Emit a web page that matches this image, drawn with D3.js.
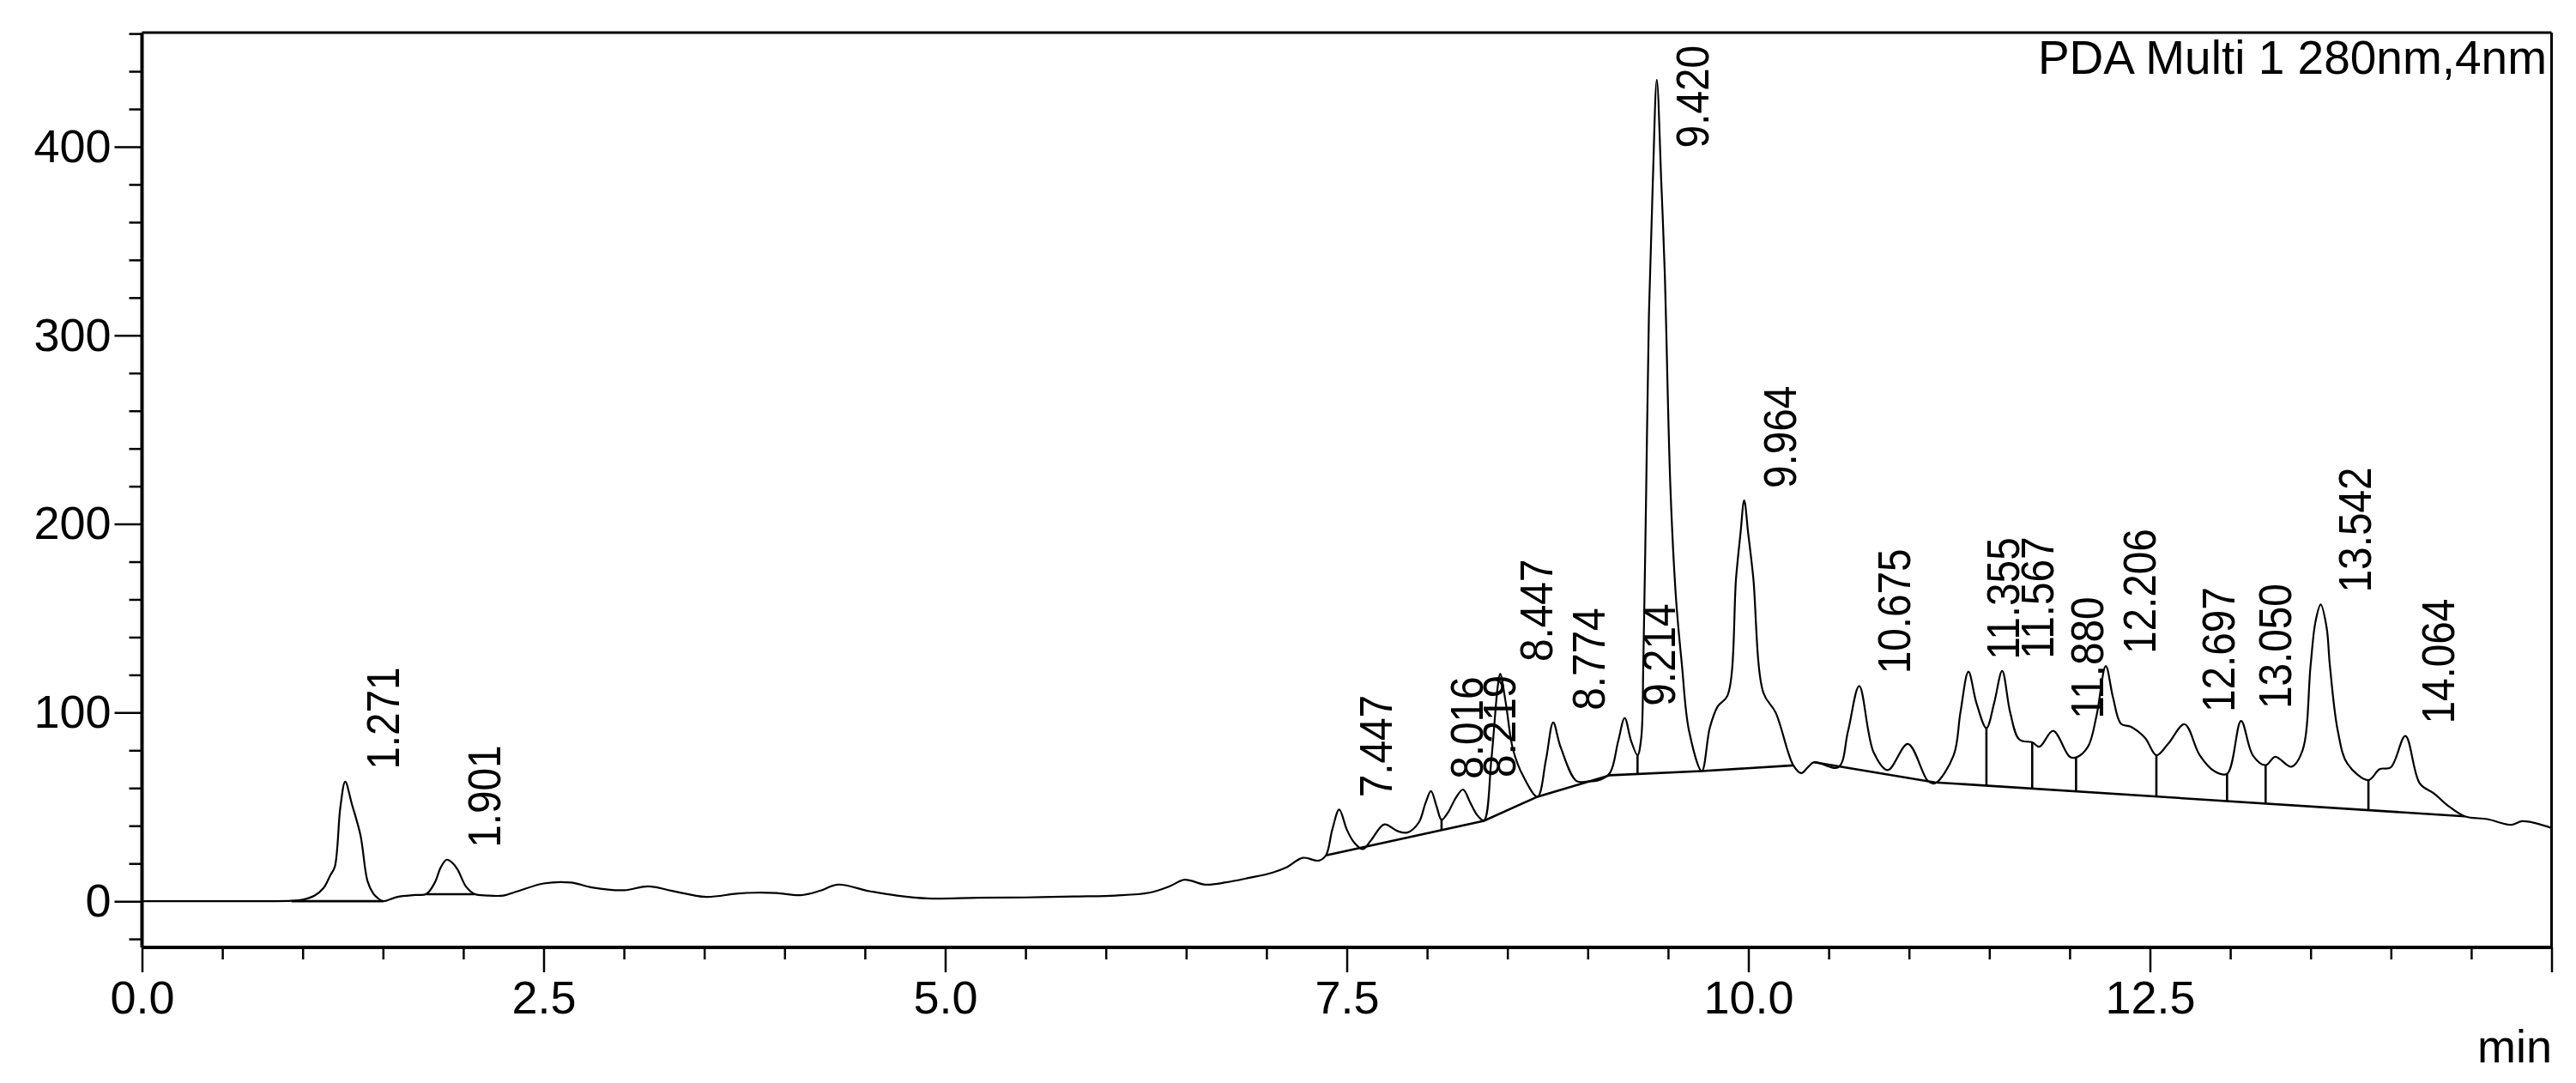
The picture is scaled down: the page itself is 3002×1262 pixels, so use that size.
<!DOCTYPE html>
<html>
<head>
<meta charset="utf-8">
<script src="https://cdn.jsdelivr.net/npm/d3@7"></script>
<style>
  html, body { margin: 0; padding: 0; background: #fff; }
  svg { display: block; }
  text { font-family: "Liberation Sans", Arial, Helvetica, sans-serif; fill: #000; }
</style>
</head>
<body>
<svg id="chart" width="3002" height="1262"></svg>
<script>
// ---------------- data ----------------
const title = "PDA Multi 1 280nm,4nm";
const xUnit = "min";

const xMajorTicks = [0, 2.5, 5, 7.5, 10, 12.5, 15];
const xTickLabels = ["0.0", "2.5", "5.0", "7.5", "10.0", "12.5", ""];
const yMajorTicks = [0, 100, 200, 300, 400];
const yTickLabels = ["0", "100", "200", "300", "400"];

// chromatogram trace: [time (min), signal]
const trace = [
  [0,0],[0.5,0],[0.8,0],[0.93,0.2],[1.0,0.8],[1.075,3],[1.13,7],[1.172,13.7],[1.20,18.2],
  [1.235,50],[1.265,63.4],[1.306,51.6],[1.36,35],[1.404,10.6],[1.44,4],[1.47,1.5],[1.50,0],
  [1.59,2.3],[1.70,3.3],[1.77,3.8],[1.823,9.9],[1.86,18],[1.897,22],[1.93,20.5],[1.965,16.7],
  [2.018,7.6],[2.07,3.8],[2.15,3.0],[2.25,3.0],[2.34,5.3],[2.50,9.4],[2.668,9.9],[2.80,7.3],
  [3.00,5.8],[3.15,7.9],[3.30,5.5],[3.51,2.3],[3.70,4.0],[3.82,4.5],[3.95,4.3],[4.10,3.2],
  [4.22,5.5],[4.33,8.8],[4.53,5.3],[4.70,3.0],[4.89,1.5],[5.20,1.8],[5.50,2.0],[5.80,2.5],
  [6.06,3.0],[6.27,4.5],[6.40,8],[6.49,11.4],[6.62,8.8],[6.75,10],[6.90,12.5],[7.01,14.5],
  [7.13,18.2],[7.225,23],[7.325,21.5],[7.37,24.3],[7.41,38],[7.453,48.6],[7.50,38],
  [7.546,31.1],[7.60,27.6],[7.65,32.2],[7.734,40.7],[7.815,37.2],[7.877,36.4],[7.948,41.7],
  [7.99,52],[8.024,58.4],[8.06,50],[8.09,43.2],[8.13,47],[8.18,55],[8.224,59.2],[8.27,52],
  [8.313,45.5],[8.354,42.8],[8.40,75],[8.44,114],[8.455,120.6],[8.49,105],[8.535,80.4],
  [8.60,66],[8.687,55.4],[8.74,75],[8.785,94.8],[8.83,82],[8.93,63.7],[9.00,63.5],[9.08,64.5],
  [9.14,68.3],[9.19,85],[9.23,97.1],[9.27,85],[9.31,77.4],[9.333,86.5],[9.346,125.6],
  [9.364,218.5],[9.381,311],[9.405,381],[9.43,435.5],[9.458,381],[9.479,334.5],[9.515,218.5],
  [9.55,160],[9.586,125.6],[9.63,90.6],[9.71,69],[9.76,92],[9.81,103.4],[9.87,109],
  [9.924,172],[9.951,195],[9.974,212.5],[9.999,195],[10.03,172],[10.094,110.4],[10.17,100],
  [10.28,72],[10.33,67.9],[10.37,71],[10.41,73.7],[10.56,71],[10.62,90],[10.69,114.1],
  [10.78,78.9],[10.868,69.5],[10.993,83.4],[11.118,63.7],[11.162,62.5],[11.278,77.4],
  [11.32,100],[11.37,121.7],[11.42,105],[11.482,91.8],[11.53,105],[11.58,122.1],[11.63,100],
  [11.687,85.7],[11.767,84.2],[11.812,81.9],[11.897,90.3],[12.00,76.6],[12.04,76.2],
  [12.114,81.9],[12.168,98.6],[12.225,124.7],[12.27,108],[12.32,94],[12.38,92.5],[12.47,86.5],
  [12.54,77.4],[12.613,83.4],[12.715,93.8],[12.81,77.4],[12.90,69],[12.98,67.5],[13.067,95.6],
  [13.14,77.4],[13.22,72.1],[13.28,76.6],[13.38,71.3],[13.45,80],[13.50,125],[13.53,148],
  [13.563,157.3],[13.60,145],[13.62,125],[13.67,90],[13.73,72.8],[13.86,64.2],[13.93,70],
  [14.00,71],[14.09,87.6],[14.18,62.4],[14.27,57],[14.35,51],[14.46,45],[14.60,43.5],
  [14.75,40.5],[14.82,42.4],[15.00,38.8]
];

// integration baselines: each segment a list of [time, signal]
const baselines = [
  [[0.93,0],[1.50,0]],
  [[1.77,3.7],[2.07,3.7]],
  [[7.37,24.3],[8.354,42.6],[8.687,55.4],[9.14,66.8],[9.71,69],[10.28,72]],
  [[10.41,73.7],[11.162,63],[14.46,45]]
];

// peak separation drop lines (times)
const dropTimes = [8.09, 9.31, 11.482, 11.767, 12.04, 12.54, 12.98, 13.22, 13.86];

// peak labels: retention time text and apex height
const peakLabels = ["1.271","1.901","7.447","8.016","8.219","8.447","8.774","9.214","9.420","9.964",
  "10.675","11.355","11.567","11.880","12.206","12.697","13.050","13.542","14.064"];
const peakTimes = [1.271,1.901,7.447,8.016,8.219,8.447,8.774,9.214,9.420,9.964,
  10.675,11.355,11.567,11.880,12.206,12.697,13.050,13.542,14.064];
const peakHeights = [63.4,22,48.6,58.4,59.2,120.6,94.8,97.1,435.5,212.5,
  114.1,121.7,122.1,90.3,124.7,93.8,95.6,157.3,87.6];

// ---------------- drawing ----------------
const svg = d3.select("#chart");
svg.append("rect").attr("width", 3002).attr("height", 1262).attr("fill", "#fff");

const L = 165.5, R = 2973.5, T = 38, B = 1104;
const x = d3.scaleLinear().domain([0, 15]).range([L, R]);
const y = d3.scaleLinear().domain([-24.5, 460.5]).range([B, T]);

const FONT = 54;

// X axis minor + major
const xMinor = d3.range(0, 15.001, 0.5).filter(v => !xMajorTicks.some(m => Math.abs(m - v) < 1e-6));
svg.append("g").attr("transform", `translate(0,${B})`)
  .call(d3.axisBottom(x).tickValues(xMinor).tickSize(14).tickFormat(""))
  .call(g => g.select(".domain").remove())
  .call(g => g.selectAll("line").attr("stroke", "#000").attr("stroke-width", 2.5));
svg.append("g").attr("transform", `translate(0,${B})`)
  .call(d3.axisBottom(x).tickValues(xMajorTicks).tickSize(29).tickPadding(10)
    .tickFormat((d, i) => xTickLabels[i]))
  .call(g => g.select(".domain").remove())
  .call(g => g.selectAll("line").attr("stroke", "#000").attr("stroke-width", 2.5))
  .call(g => g.selectAll("text").attr("font-size", FONT).attr("font-family", null).attr("fill", "#000"));

// Y axis minor + major
const yMinor = d3.range(-20, 461, 20).filter(v => !yMajorTicks.includes(v));
svg.append("g").attr("transform", `translate(${L},0)`)
  .call(d3.axisLeft(y).tickValues(yMinor).tickSize(15).tickFormat(""))
  .call(g => g.select(".domain").remove())
  .call(g => g.selectAll("line").attr("stroke", "#000").attr("stroke-width", 2.5));
svg.append("g").attr("transform", `translate(${L},0)`)
  .call(d3.axisLeft(y).tickValues(yMajorTicks).tickSize(32).tickPadding(4)
    .tickFormat((d, i) => yTickLabels[i]))
  .call(g => g.select(".domain").remove())
  .call(g => g.selectAll("line").attr("stroke", "#000").attr("stroke-width", 2.5))
  .call(g => g.selectAll("text").attr("font-size", FONT).attr("font-family", null).attr("fill", "#000"));

// frame
svg.append("line").attr("x1", L).attr("x2", R).attr("y1", T).attr("y2", T).attr("stroke", "#000").attr("stroke-width", 3);
svg.append("line").attr("x1", R).attr("x2", R).attr("y1", T).attr("y2", B).attr("stroke", "#000").attr("stroke-width", 3);
svg.append("line").attr("x1", L).attr("x2", R).attr("y1", B).attr("y2", B).attr("stroke", "#000").attr("stroke-width", 4);
svg.append("line").attr("x1", L).attr("x2", L).attr("y1", T).attr("y2", B).attr("stroke", "#000").attr("stroke-width", 4);

// clip for plot
svg.append("clipPath").attr("id", "plotclip").append("rect")
  .attr("x", L).attr("y", T).attr("width", R - L).attr("height", B - T);
const plot = svg.append("g").attr("clip-path", "url(#plotclip)");

// baselines
const lineLin = d3.line().x(d => x(d[0])).y(d => y(d[1]));
plot.selectAll("path.base").data(baselines).join("path")
  .attr("class", "base").attr("d", lineLin)
  .attr("fill", "none").attr("stroke", "#000").attr("stroke-width", 2.6);

// drop lines
function interp(arr, t) {
  for (let i = 0; i < arr.length - 1; i++) {
    if (t >= arr[i][0] && t <= arr[i + 1][0]) {
      const f = (t - arr[i][0]) / (arr[i + 1][0] - arr[i][0] || 1);
      return arr[i][1] + f * (arr[i + 1][1] - arr[i][1]);
    }
  }
  return null;
}
function baseAt(t) {
  for (const seg of baselines) {
    if (t >= seg[0][0] && t <= seg[seg.length - 1][0]) return interp(seg, t);
  }
  return null;
}
plot.selectAll("line.drop").data(dropTimes).join("line")
  .attr("class", "drop")
  .attr("x1", d => x(d)).attr("x2", d => x(d))
  .attr("y1", d => y(interp(trace, d))).attr("y2", d => y(baseAt(d)))
  .attr("stroke", "#000").attr("stroke-width", 2.6);

// chromatogram
const lineSmooth = d3.line().x(d => x(d[0])).y(d => y(d[1])).curve(d3.curveCatmullRom.alpha(0.5));
plot.append("path").datum(trace).attr("d", lineSmooth)
  .attr("fill", "none").attr("stroke", "#000").attr("stroke-width", 2.2).attr("stroke-linejoin", "round");

// peak labels (rotated)
const PL = 53;
const labels = svg.append("g");
peakLabels.forEach((lab, i) => {
  const tx = x(peakTimes[i]) + 62;
  const g = labels.append("g");
  const t = g.append("text").attr("font-size", PL).text(lab);
  const len = t.node().getComputedTextLength() * 0.9;
  let ty = y(peakHeights[i]) - 14;
  if (ty - len < T + 15) ty = T + 15 + len;
  g.attr("transform", `translate(${tx},${ty}) rotate(-90) scale(0.9,1)`);
});

// title and unit
svg.append("text").attr("x", 2968).attr("y", 86).attr("text-anchor", "end")
  .attr("font-size", 55).text(title);
svg.append("text").attr("x", 2974).attr("y", 1238).attr("text-anchor", "end")
  .attr("font-size", FONT).text(xUnit);
</script>
</body>
</html>
